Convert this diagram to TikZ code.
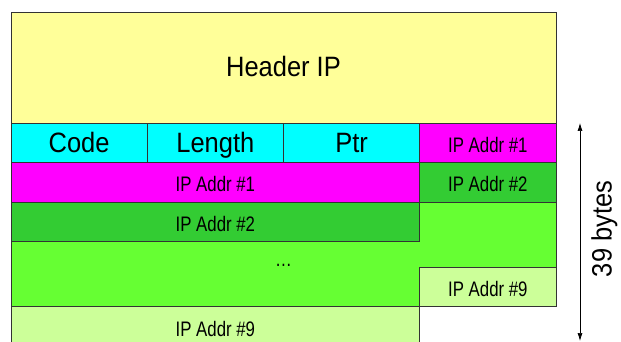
\documentclass[tikz,border=0pt]{standalone}
\usepackage{fontspec}
\setmainfont{Liberation Sans}
\newfontfamily\bigfont[FakeStretch=0.91]{Liberation Sans}
\newfontfamily\smallfont[FakeStretch=0.8]{Liberation Sans}
\usetikzlibrary{arrows.meta}
\usetikzlibrary{positioning}
\definecolor{hdrYellow}{HTML}{FFFF99}
\definecolor{optCyan}{HTML}{00FFFF}
\definecolor{addrMagenta}{HTML}{FF00FF}
\definecolor{addrGreen}{HTML}{33CC33}
\definecolor{fillGreen}{HTML}{66FF33}
\definecolor{paleGreen}{HTML}{CCFF99}
\tikzset{
  cell/.style={draw=black!80,line width=0.8pt,inner sep=0pt,outer sep=0pt,
    anchor=north west,minimum height=\rowH},
  bigtxt/.style={font=\bigfont\fontsize{28}{30}\selectfont,
    text height=20pt,text depth=1pt},
  smalltxt/.style={font=\smallfont\fontsize{21}{23}\selectfont,
    text height=19pt,text depth=0pt}
}
\def\rowH{39.5pt}
\begin{document}
\begin{tikzpicture}[>={Latex[length=8pt,width=5pt]},x=1pt,y=-1pt
  ,line cap=butt,line join=miter]
\useasboundingbox (0,0) rectangle (621,342);
\def\colW{136.25pt}
\def\addrW{408.75pt}
% header
\node[cell,bigtxt,fill=hdrYellow,minimum width=545pt,minimum height=111pt]
  (hdr) at (11,12) {Header IP};
% option fields
\node[cell,bigtxt,fill=optCyan,minimum width=\colW] (code) at (11,123) {Code};
\node[cell,bigtxt,fill=optCyan,minimum width=\colW,anchor=west] (len)
  [right=0pt of code] {Length};
\node[cell,bigtxt,fill=optCyan,minimum width=\colW,anchor=west] (ptr)
  [right=0pt of len] {Ptr};
\node[cell,smalltxt,fill=addrMagenta,minimum width=\colW,anchor=west] (a1r)
  [right=0pt of ptr] {IP Addr \#1};
% left address list
\node[cell,smalltxt,fill=addrMagenta,minimum width=\addrW] (a1) at (11,162.5)
  {IP Addr \#1};
\node[cell,smalltxt,fill=addrGreen,minimum width=\addrW] (a2) at (11,202)
  {IP Addr \#2};
% right address list
\node[cell,smalltxt,fill=addrGreen,minimum width=\colW] (a2r) at (419.75,162.5)
  {IP Addr \#2};
\draw[draw=black!80,line width=0.8pt,fill=fillGreen]
  (11,241.5) -- (419.75,241.5) -- (419.75,202) -- (556,202) -- (556,267)
  -- (419.75,267) -- (419.75,306.5) -- (11,306.5) -- cycle;
\node[smalltxt] (dots) at (283.5,257) {\dots};
\node[cell,smalltxt,fill=paleGreen,minimum width=\colW] (a9r) at (419.75,267)
  {IP Addr \#9};
\node[cell,smalltxt,fill=paleGreen,minimum width=\addrW,minimum height=41.5pt]
  (a9) at (11,306.5) {IP Addr \#9};
% size arrow
\coordinate (top) at (580,123);
\coordinate (bot) at (580,341);
\draw[line width=0.7pt,<->] (top) -- (bot);
\node[bigtxt,rotate=90] (size) at (602,229) {39 bytes};

\end{tikzpicture}
\end{document}
